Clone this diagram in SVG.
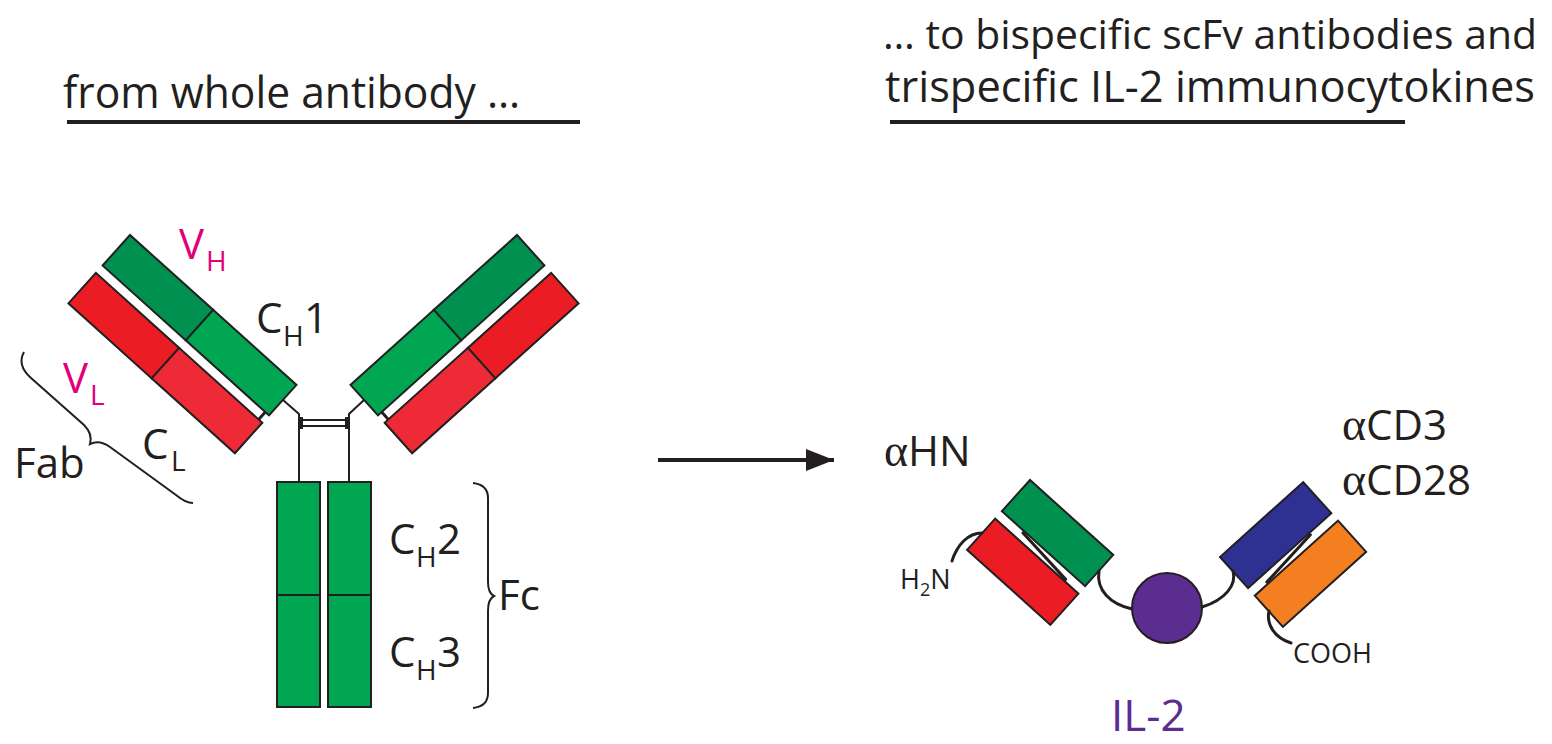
<svg xmlns="http://www.w3.org/2000/svg" width="1552" height="744" viewBox="0 0 1552 744">
<style>
.t{font-family:"Open Sans","Noto Sans",sans-serif;fill:#231f20}
.lab{font-size:42px}
.sub{font-size:28px}
.sm{font-size:27px}
.smsub{font-size:18px}
.mag{fill:#e2007a}
.pur{fill:#5c2d91}
.gr{font-family:"Liberation Serif",serif;font-size:46px}
.dom{stroke:#231f20;stroke-width:2}
.ln{fill:none;stroke:#231f20;stroke-width:2}
.lk{fill:none;stroke:#231f20;stroke-width:3;stroke-linecap:round}
.vh{fill:#009150}
.ch{fill:#00a651}
.vl{fill:#ec1c24}
.cl{fill:#ee2a36}
</style>
<defs>
<marker id="ah" markerUnits="userSpaceOnUse" markerWidth="30" markerHeight="24" refX="28" refY="12" orient="auto">
<path d="M0 1 L28 12 L0 23 Z" fill="#231f20"/>
</marker>
<g id="fab">
<rect class="dom vh" x="0" y="0" width="112" height="41"/>
<rect class="dom ch" x="112" y="0" width="112" height="41"/>
<rect class="dom vl" x="0" y="51" width="112" height="41"/>
<rect class="dom cl" x="112" y="51" width="112" height="41"/>
<line x1="219" y1="41" x2="219" y2="51" stroke="#231f20" stroke-width="3"/>
</g>
</defs>

<g id="header-left">
<text class="t" font-size="43" x="63" y="108" textLength="457" lengthAdjust="spacingAndGlyphs">from whole antibody …</text>
<line x1="67" y1="122" x2="580" y2="122" stroke="#231f20" stroke-width="4"/>
</g>
<g id="header-right">
<text class="t" font-size="41" x="883" y="49" textLength="654" lengthAdjust="spacingAndGlyphs">… to bispecific scFv antibodies and</text>
<text class="t" font-size="43" x="885" y="102" textLength="650" lengthAdjust="spacingAndGlyphs">trispecific IL-2 immunocytokines</text>
<line x1="890" y1="122" x2="1405" y2="122" stroke="#231f20" stroke-width="4"/>
</g>

<g id="fab-left">
<use href="#fab" transform="translate(130,235) rotate(42)"/>
</g>
<g id="fab-right">
<g transform="translate(647,0) scale(-1,1)">
<use href="#fab" transform="translate(130,235) rotate(42)"/>
</g>
</g>

<g id="hinge">
<path class="ln" d="M283 400 L299 414 L299 482"/>
<path class="ln" d="M364 400 L349 414 L349 482"/>
<line x1="299" y1="420" x2="349" y2="420" stroke="#231f20" stroke-width="1.8"/>
<line x1="299" y1="426" x2="349" y2="426" stroke="#231f20" stroke-width="1.8"/>
<rect x="298" y="417" width="5" height="12" fill="#231f20"/>
<rect x="345" y="417" width="5" height="12" fill="#231f20"/>
</g>

<g id="fc">
<rect class="dom ch" x="277" y="482" width="43" height="113"/>
<rect class="dom ch" x="277" y="595" width="43" height="112"/>
<rect class="dom ch" x="328" y="482" width="43" height="113"/>
<rect class="dom ch" x="328" y="595" width="43" height="112"/>
</g>

<g id="labels-left">
<text class="t lab mag" x="179" y="259">V<tspan class="sub" x="206" y="271">H</tspan></text>
<text class="t lab" x="256" y="333">C<tspan class="sub" x="283" y="346">H</tspan><tspan x="304" y="333">1</tspan></text>
<text class="t lab mag" x="63" y="393">V<tspan class="sub" x="90" y="405">L</tspan></text>
<text class="t lab" x="142" y="459">C<tspan class="sub" x="171" y="471">L</tspan></text>
<text class="t lab" x="14" y="478">Fab</text>
<text class="t lab" x="389" y="554">C<tspan class="sub" x="416" y="567">H</tspan><tspan x="437" y="554">2</tspan></text>
<text class="t lab" x="389" y="667">C<tspan class="sub" x="416" y="680">H</tspan><tspan x="437" y="667">3</tspan></text>
<text class="t lab" x="498" y="610">Fc</text>
</g>

<g id="braces">
<path class="ln" d="M24 352 C19 361 22 370 31 378 L84 425 C90 431 92 437 90 444 C96 441 103 442 110 447 L176 495 C182 500 187 503 193 503"/>
<path class="ln" d="M473 483 C482 484 488 488 488 498 L488 582 C488 590 490 594 494 596 C490 598 488 602 488 611 L488 693 C488 703 482 707 473 708"/>
</g>

<g id="scfv-hn">
<g transform="translate(1030,480) rotate(42)">
<rect class="dom" fill="#009150" x="0" y="0" width="112" height="42"/>
<rect class="dom" fill="#ec1c24" x="0" y="52" width="112" height="42"/>
<line class="lk" x1="30" y1="44" x2="93" y2="50"/>
</g>
<path class="lk" d="M952 561 C957 545 968 533 982 533"/>
</g>

<g id="il2">
<circle cx="1167" cy="608" r="35" fill="#5c2d91" stroke="#231f20" stroke-width="2"/>
<text class="t pur" x="1111" y="731" font-size="44">IL-2</text>
</g>

<g id="scfv-cd3">
<g transform="translate(1220,557) rotate(-42)">
<rect class="dom" fill="#2e3192" x="0" y="0" width="112" height="42"/>
<rect class="dom" fill="#f47f20" x="0" y="52" width="112" height="42"/>
<line class="lk" x1="82" y1="44" x2="18" y2="50"/>
</g>
<path class="lk" d="M1269 611 C1266 625 1275 638 1291 643"/>
</g>

<g id="linkers">
<path class="lk" d="M1099 571 C1096 590 1110 604 1132 609"/>
<path class="lk" d="M1202 607 C1225 600 1237 585 1233 571"/>
</g>

<g id="labels-right">
<text class="t lab" x="884" y="466"><tspan class="gr">α</tspan>HN</text>
<text class="t lab" x="1342" y="440"><tspan class="gr">α</tspan>CD3</text>
<text class="t lab" x="1342" y="495"><tspan class="gr">α</tspan>CD28</text>
<text class="t sm" x="900" y="589">H<tspan class="smsub" y="596">2</tspan><tspan y="589">N</tspan></text>
<text class="t sm" x="1293" y="663" font-size="28">COOH</text>
</g>

<g id="connectors">
<line x1="658" y1="460" x2="834" y2="460" stroke="#231f20" stroke-width="4" marker-end="url(#ah)"/>
</g>
</svg>
